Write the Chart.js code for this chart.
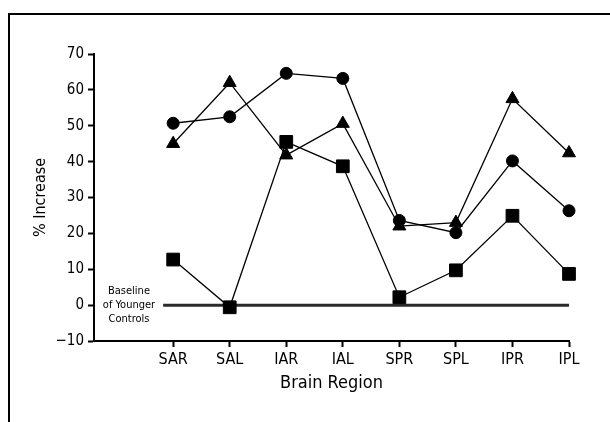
<!DOCTYPE html>
<html>
<head>
<meta charset="utf-8">
<script src="https://cdn.jsdelivr.net/npm/chart.js@4.4.1/dist/chart.umd.min.js"></script>
<style>
    html, body { margin: 0; padding: 0; background: #fff; }
    #wrap { position: relative; width: 610px; height: 422px; }
    #frame {
        position: absolute; left: 8px; top: 13px; right: 0; bottom: 0;
        border-top: 2px solid #000; border-left: 2px solid #000;
        pointer-events: none;
    }
</style>
</head>
<body>
<div id="wrap">
    <canvas id="chart" width="610" height="422"></canvas>
    <div id="frame"></div>
</div>
<script>
// Chart data
const categories = ['SAR', 'SAL', 'IAR', 'IAL', 'SPR', 'SPL', 'IPR', 'IPL'];
const circleValues = [50.7, 52.5, 64.6, 63.2, 23.6, 20.2, 40.2, 26.3];
const triangleValues = [45.0, 62.0, 41.8, 50.6, 22.0, 23.0, 57.5, 42.4];
const squareValues = [12.7, -0.6, 45.5, 38.7, 2.2, 9.7, 24.9, 8.7];
const yTicks = [-10, 0, 10, 20, 30, 40, 50, 60, 70];
const baselineLabel = ['Baseline', 'of Younger', 'Controls'];

const narrow = "'Liberation Sans Narrow', 'DejaVu Sans Condensed', Arial, sans-serif";

function toPoints(values) {
    return values.map((v, i) => ({ x: i, y: v }));
}

function makeSeries(label, values, style, radius) {
    return {
        label: label,
        data: toPoints(values),
        borderColor: '#000',
        borderWidth: 1.3,
        backgroundColor: '#000',
        pointStyle: style,
        pointRadius: radius,
        pointBorderWidth: 1,
        pointBackgroundColor: '#000',
        pointBorderColor: '#000',
        tension: 0,
        fill: false,
        clip: false
    };
}

// Baseline at zero with its label on the left
const baselinePlugin = {
    id: 'baseline',
    beforeDatasetsDraw(chart) {
        const { ctx, chartArea, scales } = chart;
        const y0 = scales.y.getPixelForValue(0);
        const cx = chartArea.left + 35;
        ctx.save();
        ctx.font = "11px " + narrow;
        ctx.fillStyle = '#000';
        ctx.textAlign = 'center';
        ctx.textBaseline = 'middle';
        let maxW = 0;
        baselineLabel.forEach((line, i) => {
            ctx.fillText(line, cx, y0 + (i - 1) * 14);
            maxW = Math.max(maxW, ctx.measureText(line).width);
        });
        const start = cx + maxW / 2 + 8;
        ctx.strokeStyle = '#2a2a2a';
        ctx.lineWidth = 3;
        ctx.beginPath();
        ctx.moveTo(start, y0);
        ctx.lineTo(scales.x.getPixelForValue(categories.length - 1), y0);
        ctx.stroke();
        ctx.restore();
    }
};

const ctx = document.getElementById('chart').getContext('2d');
new Chart(ctx, {
    type: 'line',
    data: {
        datasets: [
            makeSeries('Squares', squareValues, 'rect', 9),
            makeSeries('Triangles', triangleValues, 'triangle', 7.5),
            makeSeries('Circles', circleValues, 'circle', 6)
        ]
    },
    options: {
        responsive: false,
        animation: false,
        layout: { padding: { left: 31, right: 41, top: 54, bottom: 28 } },
        plugins: {
            legend: { display: false },
            tooltip: { enabled: false }
        },
        scales: {
            x: {
                type: 'linear',
                min: -1.4,
                max: categories.length - 1,
                afterBuildTicks: (scale) => {
                    scale.ticks = categories.map((c, i) => ({ value: i }));
                },
                afterFit: (scale) => { scale.height = 53; },
                grid: {
                    drawOnChartArea: false,
                    drawTicks: true,
                    tickLength: 6,
                    tickWidth: 2,
                    color: '#000'
                },
                border: { display: true, color: '#000', width: 2 },
                ticks: {
                    color: '#000',
                    padding: 3,
                    autoSkip: false,
                    maxRotation: 0,
                    font: { family: narrow, size: 16 },
                    callback: (value) => categories[value] || ''
                },
                title: {
                    display: true,
                    text: 'Brain Region',
                    color: '#000',
                    padding: 0,
                    font: { family: narrow, size: 18 }
                }
            },
            y: {
                min: -10,
                max: 70,
                afterBuildTicks: (scale) => {
                    scale.ticks = yTicks.map(v => ({ value: v }));
                },
                afterFit: (scale) => { scale.width = 63; },
                grid: {
                    drawOnChartArea: false,
                    drawTicks: true,
                    tickLength: 6,
                    tickWidth: 2,
                    color: '#000'
                },
                border: { display: true, color: '#000', width: 2 },
                ticks: {
                    color: '#000',
                    padding: 4,
                    font: { family: narrow, size: 15 },
                    callback: (value) => String(value).replace('-', '\u2212')
                },
                title: {
                    display: true,
                    text: '% Increase',
                    color: '#000',
                    padding: 0,
                    font: { family: narrow, size: 16 }
                }
            }
        }
    },
    plugins: [baselinePlugin]
});
</script>
</body>
</html>
